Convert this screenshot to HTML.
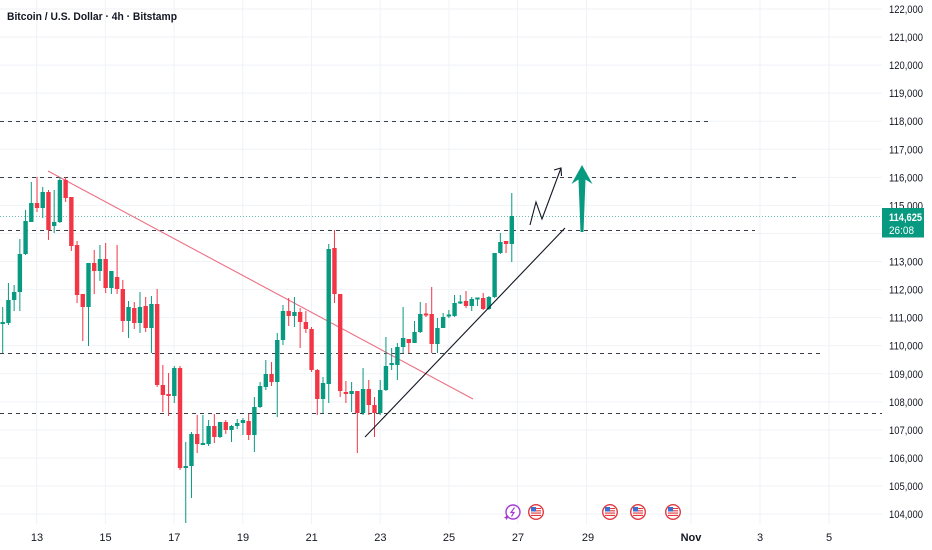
<!DOCTYPE html>
<html><head><meta charset="utf-8"><style>
html,body{margin:0;padding:0;background:#fff;}
svg{display:block;font-family:"Liberation Sans",sans-serif;}
</style></head><body>
<svg width="932" height="550" viewBox="0 0 932 550" xmlns="http://www.w3.org/2000/svg">
<rect width="932" height="550" fill="#fff"/>
<!-- horizontal grid -->
<g stroke="#f0f2f6" stroke-width="1">
<path d="M0 9H882M0 37.06H882M0 65.12H882M0 93.18H882M0 121.24H882M0 149.3H882M0 177.36H882M0 205.42H882M0 233.48H882M0 261.54H882M0 289.6H882M0 317.66H882M0 345.72H882M0 373.78H882M0 401.84H882M0 429.9H882M0 457.96H882M0 486.02H882M0 514.08H882"/>
<path d="M36.7 0V524M105.4 0V524M174.1 0V524M242.8 0V524M311.5 0V524M380.2 0V524M448.9 0V524M517.6 0V524M586.5 0V524M691 0V524M760 0V524M829 0V524"/>
</g>
<!-- dashed horizontal levels -->
<g stroke="#3a3e47" stroke-width="1" stroke-dasharray="4,4" fill="none">
<path d="M0 121.5H708"/>
<path d="M0 177.5H800"/>
<path d="M0 230.5H755"/>
<path d="M0 353.5H822"/>
<path d="M0 413.5H882"/>
</g>
<!-- current price dotted -->
<path d="M0 216.5H882" stroke="#089981" stroke-opacity="0.6" stroke-width="1" stroke-dasharray="1,2"/>
<!-- red trendline -->
<path d="M48 171L473 399" stroke="#ec6f84" stroke-width="1.1" fill="none"/>
<!-- green candles -->
<g stroke="#089981" stroke-width="1" fill="none">
<path d="M2.7 307V353M8.42 283V325M14.14 285V311M19.86 239V311M25.58 210V255M31.3 182V222M42.74 187V218M54.18 190V233M59.9 177V223M88.5 263V346M99.94 245V281M111.38 271V294M128.54 301V338M139.98 292V333M151.42 296V353M174.3 366V403M185.74 442V523M191.46 432V498M202.9 415V445M208.62 420V446M220.06 422V438M231.5 425V442M237.22 419V429M242.94 418V435M254.38 397V452M260.1 382V408M265.82 360V390M277.26 333V417M282.98 305V345M294.42 297V327M323.02 377V413M328.74 244V403M351.62 382V412M363.06 368V415M380.22 380V415M385.94 337V391M391.66 348V370M397.38 343V380M403.1 307V353M414.54 321V343M420.26 302V333M437.42 318V353M443.14 313V328M448.86 310V318M454.58 295V317M460.3 295V304M471.74 297V311M477.46 298V306M488.9 296V310M494.62 253V298M500.34 233V254M511.78 193V262"/>
</g>
<g fill="#089981">
<path d="M0.5 322h4.4V324h-4.4zM6.22 300h4.4V323h-4.4zM11.94 292h4.4V300h-4.4zM17.66 254h4.4V292h-4.4zM23.38 221h4.4V254h-4.4zM29.1 203h4.4V222h-4.4zM40.54 192h4.4V208h-4.4zM51.98 222h4.4V226h-4.4zM57.7 180h4.4V222h-4.4zM86.3 263h4.4V307h-4.4zM97.74 259h4.4V271h-4.4zM109.18 271h4.4V288h-4.4zM126.34 307h4.4V321h-4.4zM137.78 307h4.4V323h-4.4zM149.22 304h4.4V328h-4.4zM172.1 368h4.4V396h-4.4zM183.54 466h4.4V468h-4.4zM189.26 434h4.4V466h-4.4zM200.7 443h4.4V445h-4.4zM206.42 426h4.4V444h-4.4zM217.86 422h4.4V437h-4.4zM229.3 426h4.4V430h-4.4zM235.02 423h4.4V426h-4.4zM240.74 420h4.4V423h-4.4zM252.18 407h4.4V435h-4.4zM257.9 386h4.4V407h-4.4zM263.62 374h4.4V387h-4.4zM275.06 340h4.4V382h-4.4zM280.78 311h4.4V340h-4.4zM292.22 312h4.4V316h-4.4zM320.82 383h4.4V399h-4.4zM326.54 249h4.4V384h-4.4zM349.42 391h4.4V394h-4.4zM360.86 389h4.4V413h-4.4zM378.02 390h4.4V413h-4.4zM383.74 366h4.4V390h-4.4zM389.46 363h4.4V365h-4.4zM395.18 347h4.4V365h-4.4zM400.9 338h4.4V347h-4.4zM412.34 332h4.4V343h-4.4zM418.06 314h4.4V332h-4.4zM435.22 328h4.4V344h-4.4zM440.94 317h4.4V328h-4.4zM446.66 314.5h4.4V316.5h-4.4zM452.38 303h4.4V316h-4.4zM458.1 301.5h4.4V303.5h-4.4zM469.54 299h4.4V306h-4.4zM475.26 297.5h4.4V299.5h-4.4zM486.7 297h4.4V309h-4.4zM492.42 253h4.4V297h-4.4zM498.14 242h4.4V253h-4.4zM509.58 216h4.4V244h-4.4z"/>
</g>
<!-- red candles -->
<g stroke="#f23645" stroke-width="1" fill="none">
<path d="M37.02 177V212M48.46 190V240M65.62 177V202M71.34 197V251M77.06 241V303M82.78 294V341M94.22 250V294M105.66 243V293M117.1 245V294M122.82 280V332M134.26 302V329M145.7 297V332M157.14 289V387M162.86 365V412M168.58 373V416M180.02 366V470M197.18 415V453M214.34 414V443M225.78 420V434M248.66 414V440M271.54 362V386M288.7 298V326M300.14 308V348M305.86 311V333M311.58 327V372M317.3 369V415M334.46 230V303M340.18 294V397M345.9 381V403M357.34 391V453M368.78 380V415M374.5 397V437M408.82 339V353M425.98 303V317M431.7 287V353M466.02 291V308M483.18 293V310M506.06 241V253"/>
</g>
<g fill="#f23645">
<path d="M34.82 203h4.4V208h-4.4zM46.26 192h4.4V230h-4.4zM63.42 180h4.4V198h-4.4zM69.14 197h4.4V246h-4.4zM74.86 245h4.4V295h-4.4zM80.58 294h4.4V307h-4.4zM92.02 263h4.4V271h-4.4zM103.46 259h4.4V288h-4.4zM114.9 277h4.4V289h-4.4zM120.62 289h4.4V321h-4.4zM132.06 308h4.4V323h-4.4zM143.5 306h4.4V328h-4.4zM154.94 304h4.4V385h-4.4zM160.66 385h4.4V395h-4.4zM166.38 394h4.4V396h-4.4zM177.82 368h4.4V468h-4.4zM194.98 434h4.4V444h-4.4zM212.14 426h4.4V437h-4.4zM223.58 422h4.4V430h-4.4zM246.46 421h4.4V435h-4.4zM269.34 374h4.4V382h-4.4zM286.5 311h4.4V316h-4.4zM297.94 312h4.4V322h-4.4zM303.66 322h4.4V329h-4.4zM309.38 329h4.4V370h-4.4zM315.1 370h4.4V399h-4.4zM332.26 248h4.4V294h-4.4zM337.98 294h4.4V391h-4.4zM343.7 392h4.4V394h-4.4zM355.14 391h4.4V413h-4.4zM366.58 389h4.4V405h-4.4zM372.3 405h4.4V413h-4.4zM406.62 339h4.4V343h-4.4zM423.78 313.5h4.4V315.5h-4.4zM429.5 314h4.4V344h-4.4zM463.82 301h4.4V306h-4.4zM480.98 298h4.4V309h-4.4zM503.86 241h4.4V244h-4.4z"/>
</g>
<!-- black trendline -->
<path d="M365 437L565 228" stroke="#131722" stroke-width="1.1" fill="none"/>
<!-- zigzag arrow -->
<path d="M530 225L536 202L542 219L561 168" stroke="#131722" stroke-width="1.1" fill="none" stroke-linejoin="miter"/>
<path d="M554 170L561 168L561.5 176" stroke="#131722" stroke-width="1.1" fill="none"/>
<!-- green up arrow -->
<polygon points="582,165 592.5,184 585.5,179.5 583.5,232 580.5,232 578.5,179.5 571.5,184" fill="#089981"/>
<!-- event icons -->
<g>
<circle cx="513" cy="512" r="7" fill="#fff" stroke="#a43bd6" stroke-width="1.4"/>
<path d="M514.5 507.5L511 512.5H514L511.5 516.5" stroke="#a43bd6" stroke-width="1.2" fill="none"/>
<path d="M506.5 515l0.8 1.8 1.8 0.8-1.8 0.8-0.8 1.8-0.8-1.8-1.8-0.8 1.8-0.8z" fill="#a43bd6"/>
</g>
<g id="flag">
<circle cx="536" cy="512" r="7.3" fill="#fff" stroke="#e2393f" stroke-width="1.4"/>
<rect x="531" y="507.5" width="10" height="9" fill="#fff"/>
<path d="M531 508.5H541M531 510.8H541M531 513.1H541M531 515.4H541" stroke="#e2393f" stroke-width="1.1"/>
<rect x="531" y="507" width="5" height="4.5" fill="#3b6fd0"/>
</g>
<use href="#flag" x="74"/>
<use href="#flag" x="102"/>
<use href="#flag" x="137"/>
<!-- title -->
<text x="7" y="20" font-size="11" font-weight="bold" fill="#131722" textLength="170" lengthAdjust="spacingAndGlyphs">Bitcoin / U.S. Dollar · 4h · Bitstamp</text>
<!-- right axis labels -->
<g font-size="11" fill="#131722">
<text x="889" y="13" textLength="34" lengthAdjust="spacingAndGlyphs">122,000</text>
<text x="889" y="41" textLength="34" lengthAdjust="spacingAndGlyphs">121,000</text>
<text x="889" y="69" textLength="34" lengthAdjust="spacingAndGlyphs">120,000</text>
<text x="889" y="97" textLength="34" lengthAdjust="spacingAndGlyphs">119,000</text>
<text x="889" y="125" textLength="34" lengthAdjust="spacingAndGlyphs">118,000</text>
<text x="889" y="153.3" textLength="34" lengthAdjust="spacingAndGlyphs">117,000</text>
<text x="889" y="181.4" textLength="34" lengthAdjust="spacingAndGlyphs">116,000</text>
<text x="889" y="209.4" textLength="34" lengthAdjust="spacingAndGlyphs">115,000</text>
<text x="889" y="265.5" textLength="34" lengthAdjust="spacingAndGlyphs">113,000</text>
<text x="889" y="293.6" textLength="34" lengthAdjust="spacingAndGlyphs">112,000</text>
<text x="889" y="321.7" textLength="34" lengthAdjust="spacingAndGlyphs">111,000</text>
<text x="889" y="349.7" textLength="34" lengthAdjust="spacingAndGlyphs">110,000</text>
<text x="889" y="377.8" textLength="34" lengthAdjust="spacingAndGlyphs">109,000</text>
<text x="889" y="405.8" textLength="34" lengthAdjust="spacingAndGlyphs">108,000</text>
<text x="889" y="433.9" textLength="34" lengthAdjust="spacingAndGlyphs">107,000</text>
<text x="889" y="462" textLength="34" lengthAdjust="spacingAndGlyphs">106,000</text>
<text x="889" y="490" textLength="34" lengthAdjust="spacingAndGlyphs">105,000</text>
<text x="889" y="518.1" textLength="34" lengthAdjust="spacingAndGlyphs">104,000</text>
</g>
<!-- price label -->
<rect x="882" y="208" width="42" height="29.5" fill="#089981"/>
<text x="889" y="221" font-size="11" font-weight="bold" fill="#fff" textLength="33" lengthAdjust="spacingAndGlyphs">114,625</text>
<text x="889" y="234" font-size="11" fill="#fff" textLength="25" lengthAdjust="spacingAndGlyphs">26:08</text>
<!-- bottom axis -->
<g font-size="11" fill="#131722" text-anchor="middle">
<text x="37" y="541">13</text>
<text x="105.5" y="541">15</text>
<text x="174.3" y="541">17</text>
<text x="243" y="541">19</text>
<text x="311.7" y="541">21</text>
<text x="380.4" y="541">23</text>
<text x="449" y="541">25</text>
<text x="518" y="541">27</text>
<text x="588" y="541">29</text>
<text x="691" y="541" font-weight="bold">Nov</text>
<text x="760" y="541">3</text>
<text x="829" y="541">5</text>
</g>
</svg>
</body></html>
